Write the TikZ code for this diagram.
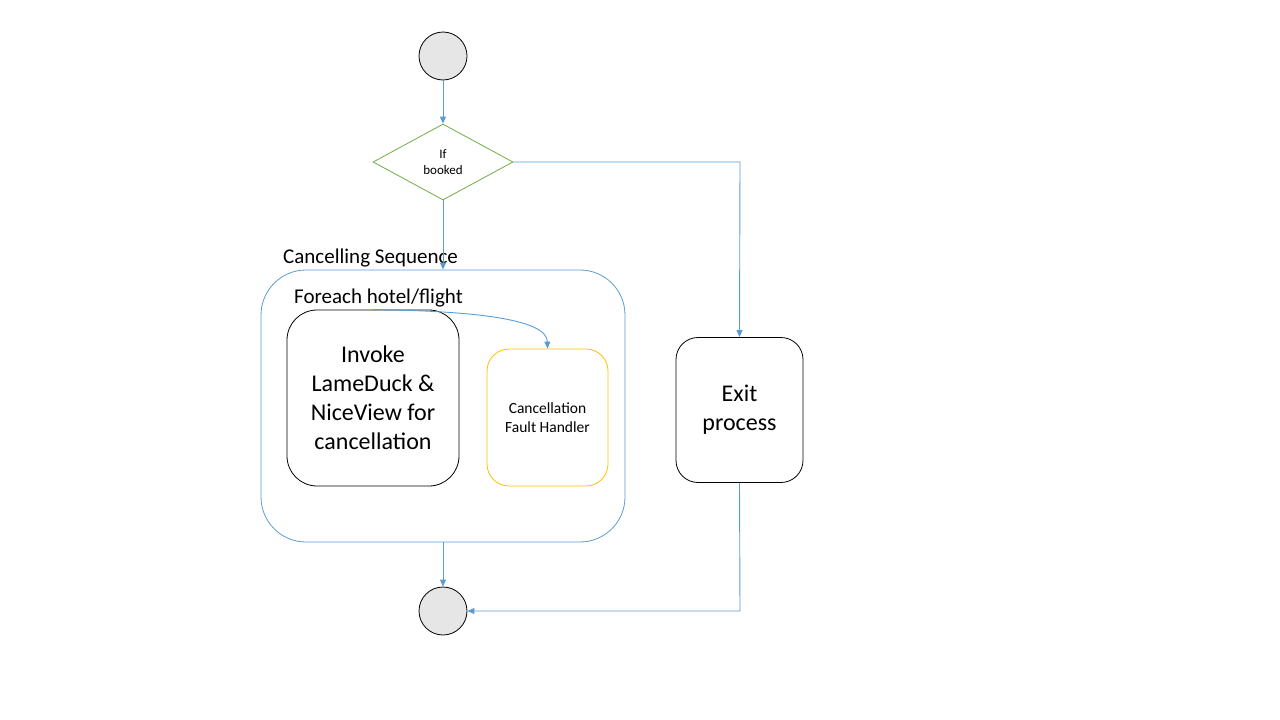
\documentclass[tikz,border=0pt]{standalone}
\usepackage{fontspec}
\setmainfont{Carlito}
\usetikzlibrary{arrows.meta,shapes.geometric}
\definecolor{lblue}{HTML}{5B9BD5}
\definecolor{lgreen}{HTML}{70AD47}
\definecolor{lyellow}{HTML}{FFC000}
\definecolor{lgray}{HTML}{E6E6E6}
\tikzset{
  conn/.style={draw=lblue, line width=0.9pt, -{Triangle[width=6pt,length=7pt]}},
  endpt/.style={circle, draw=black, fill=lgray, minimum size=48pt, inner sep=0pt, line width=0.8pt},
  decis/.style={diamond, draw=lgreen, line width=0.8pt, minimum width=140pt, minimum height=76pt, inner sep=0pt, aspect=1.84, font=\fontsize{13}{16}\selectfont, align=center},
  lbl/.style={anchor=west, inner sep=0pt, font=\fontsize{21}{24}\selectfont},
  boxb/.style={draw=black, line width=0.8pt, inner sep=0pt, align=center},
}
\begin{document}
\begin{tikzpicture}[x=1pt,y=-1pt]
\useasboundingbox (0,0) rectangle (1280,720);
\node[endpt] (start) at (443,56) {};
\node[decis] (dec) at (443,162) {If\\booked};
% Cancelling sequence container
\node[draw=lblue, line width=0.8pt, rounded corners=45pt, minimum width=364pt, minimum height=272pt, inner sep=0pt] (seq) at (443,406) {};
\node[lbl] (seqlbl) at (283,258) {Cancelling Sequence};
\node[lbl] (forlbl) at (294,298) {Foreach hotel/flight};
\node[boxb, rounded corners=30pt, minimum width=172pt, minimum height=176pt, font=\fontsize{24}{29}\selectfont] (invoke) at (373,398) {Invoke\\LameDuck \&\\NiceView for\\cancellation};
\node[draw=lyellow, line width=0.8pt, rounded corners=22pt, minimum width=121pt, minimum height=137pt, inner sep=0pt, align=center, font=\fontsize{15.5}{19}\selectfont] (fault) at (547.5,417.5) {Cancellation\\Fault Handler};
\node[boxb, rounded corners=22pt, minimum width=127pt, minimum height=145pt, font=\fontsize{24}{29}\selectfont] (exit) at (739.5,410) {Exit\\process};
\node[endpt] (end) at (443,611) {};
\coordinate (c1) at (740,162);
\coordinate (c2) at (740,611);
\draw[conn] (start) -- (dec);
\draw[conn] (dec.south) -- (seq.north);
\draw[conn] (dec.east) -- (c1) -- (exit.north);
\draw[conn] (invoke.north) .. controls (480,311) and (547,320) .. (fault.north);
\draw[conn] (seq.south) -- (end);
\draw[conn] (exit.south) -- (c2) -- (end.east);
\end{tikzpicture}
\end{document}
